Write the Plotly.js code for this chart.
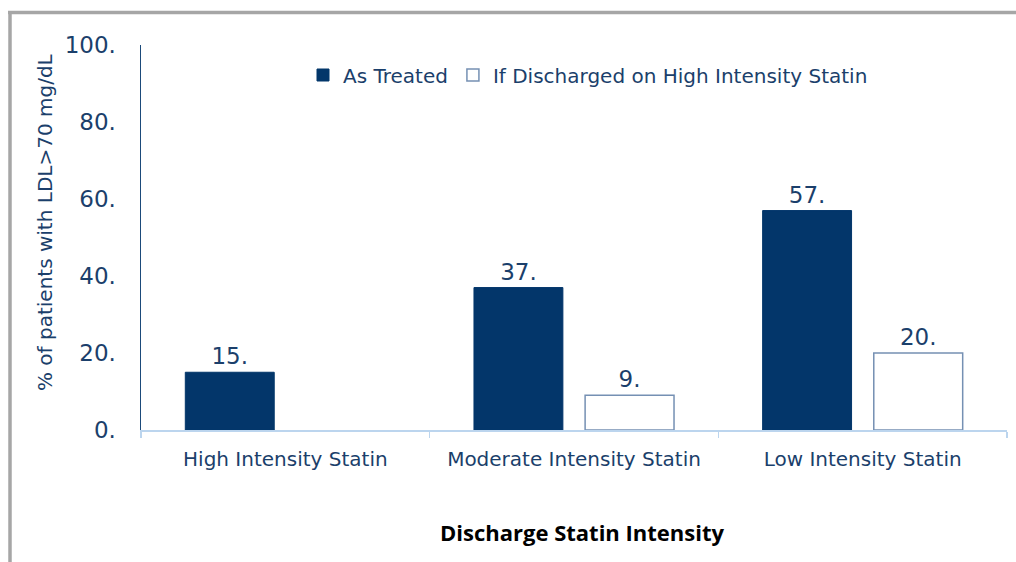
<!DOCTYPE html>
<html>
<head>
<meta charset="utf-8">
<script src="https://cdn.plot.ly/plotly-3.0.1.min.js"></script>
<style>
html,body{margin:0;padding:0;background:#fff;}
#chart{width:1016px;height:562px;}
</style>
</head>
<body>
<div id="chart"></div>
<script>
var categories = ["High Intensity Statin", "Moderate Intensity Statin", "Low Intensity Statin"];
var asTreated = [15, 37, 57];
var ifDischarged = [null, 9, 20];
var yTickVals = [0, 20, 40, 60, 80, 100];
var yTickText = ["0.", "20.", "40.", "60.", "80.", "100."];
var seriesNames = ["As Treated", "If Discharged on High Intensity Statin"];

var navy = "#03366a";
var textNavy = "#1b3f6b";
var fontFam = "'DejaVu Sans', Verdana, sans-serif";

function labels(arr){ return arr.map(function(v){ return v === null ? "" : v + "."; }); }

var traces = [
  {
    type: "bar", name: seriesNames[0], x: categories, y: asTreated,
    marker: {color: navy, line: {color: navy, width: 1}},
    text: labels(asTreated), textposition: "outside", cliponaxis: false,
    textfont: {family: fontFam, size: 23, color: textNavy},
    hoverinfo: "none"
  },
  {
    type: "bar", name: seriesNames[1], x: categories, y: ifDischarged,
    marker: {color: "#ffffff", line: {color: "#7590b3", width: 1.5}},
    text: labels(ifDischarged), textposition: "outside", cliponaxis: false,
    textfont: {family: fontFam, size: 23, color: textNavy},
    hoverinfo: "none"
  }
];

var L = 141, R = 9, T = 45, B = 132;
var W = 1016 - L - R, H = 562 - T - B;
function px(x){ return (x - L) / W; }
function py(y){ return (562 - B - y) / H; }

var layout = {
  width: 1016, height: 562,
  margin: {l: L, r: R, t: T, b: B, pad: 0},
  paper_bgcolor: "#ffffff", plot_bgcolor: "#ffffff",
  font: {family: fontFam, color: textNavy},
  barmode: "group", bargap: 0.23, bargroupgap: 0.2,
  showlegend: true,
  legend: {
    orientation: "h", x: px(588), xanchor: "center", y: py(75), yanchor: "middle",
    font: {family: fontFam, size: 20, color: textNavy},
    itemwidth: 30, tracegroupgap: 0, bgcolor: "rgba(0,0,0,0)"
  },
  xaxis: {
    type: "category", showline: true, linecolor: "#bcd5ee", linewidth: 1.5,
    ticks: "outside", tickson: "boundaries", ticklen: 6, tickcolor: "#bcd5ee", tickwidth: 1.5,
    tickfont: {family: fontFam, size: 20, color: textNavy},
    ticklabelstandoff: 10,
    showgrid: false, zeroline: false, fixedrange: true
  },
  yaxis: {
    range: [0, 100], tickvals: yTickVals, ticktext: yTickText,
    showline: true, linecolor: "#1b4a7a", linewidth: 1.5,
    ticks: "", showgrid: false, zeroline: false,
    tickfont: {family: fontFam, size: 23, color: textNavy},
    ticklabelstandoff: 19, fixedrange: true
  },
  annotations: [
    {
      text: "% of patients with LDL>70 mg/dL", textangle: -90,
      xref: "paper", yref: "paper", x: px(45), y: py(222),
      xanchor: "center", yanchor: "middle", showarrow: false,
      font: {family: fontFam, size: 20, color: textNavy}
    },
    {
      text: "<b>Discharge Statin Intensity</b>",
      xref: "paper", yref: "paper", x: px(582), y: py(532),
      xanchor: "center", yanchor: "middle", showarrow: false,
      font: {family: "'Open Sans', 'Liberation Sans', sans-serif", size: 22, color: "#000000"}
    }
  ],
  shapes: [
    {type: "line", xref: "paper", yref: "paper", x0: px(8), x1: px(1016), y0: py(12.5), y1: py(12.5),
     line: {color: "#a6a6a6", width: 3.5}},
    {type: "line", xref: "paper", yref: "paper", x0: px(10), x1: px(10), y0: py(11), y1: py(562),
     line: {color: "#a6a6a6", width: 3.5}}
  ]
};

Plotly.newPlot("chart", traces, layout, {displayModeBar: false, staticPlot: true});
</script>
</body>
</html>
